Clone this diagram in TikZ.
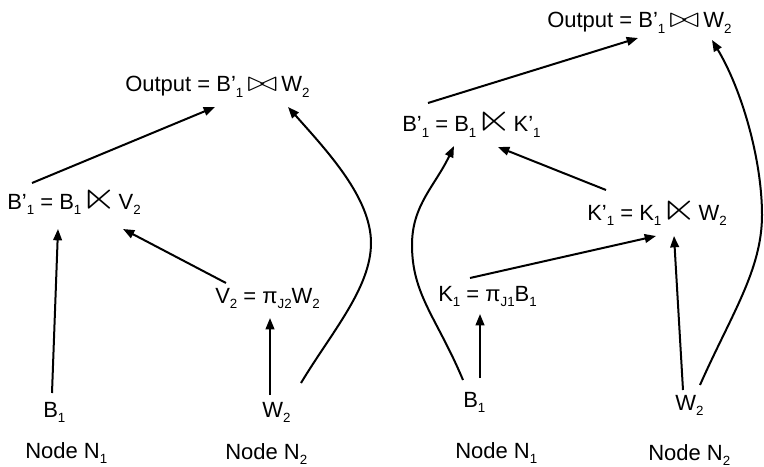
\documentclass[tikz,border=0pt]{standalone}
\usepackage{amssymb}
\usepackage{graphicx}
\usepackage{fontspec}
\setmainfont{Liberation Sans}
\usetikzlibrary{arrows.meta,calc}
\newcommand\lw[1]{\raisebox{-4pt}{\fontsize{10}{11}\selectfont #1}}
\newcommand\sj{\scalebox{2.1}[1.8]{$\ltimes$}\kern1pt}
\newcommand\bt{\kern3pt\scalebox{1.6}[1.25]{$\bowtie$}\kern3pt}
\begin{document}
\begin{tikzpicture}[x=0.75pt,y=-0.75pt,
  lbl/.style={anchor=base west,inner sep=0pt,font=\fontsize{16.5}{20}\selectfont},
  arr/.style={line width=1.5pt,-{Triangle[length=8.5pt,width=6.5pt]}}]
\useasboundingbox (0,0) rectangle (764,467);
% left diagram
\node[lbl] (outL) at (125,92) {Output = B’\lw{1}\bt W\lw{2}};
\node[lbl] (bpL) at (7,209) {B’\lw{1} = B\lw{1}\sj V\lw{2}};
\node[lbl] (v2L) at (215,303) {V\lw{2} = π\lw{J2}W\lw{2}};
\node[lbl] (b1L) at (43,417) {B\lw{1}};
\node[lbl] (w2L) at (262,417) {W\lw{2}};
\node[lbl] (n1L) at (25,458) {Node N\lw{1}};
\node[lbl] (n2L) at (225,459) {Node N\lw{2}};
% right diagram
\node[lbl] (outR) at (547,28) {Output = B’\lw{1}\bt W\lw{2}};
\node[lbl] (bpR) at (402,132) {B’\lw{1} = B\lw{1}\sj K’\lw{1}};
\node[lbl] (kpR) at (587,220) {K’\lw{1} = K\lw{1}\sj W\lw{2}};
\node[lbl] (k1R) at (438,301) {K\lw{1} = π\lw{J1}B\lw{1}};
\node[lbl] (b1R) at (463,407) {B\lw{1}};
\node[lbl] (w2R) at (675,410) {W\lw{2}};
\node[lbl] (n1R) at (455,458) {Node N\lw{1}};
\node[lbl] (n2R) at (648,460) {Node N\lw{2}};
% left connectors
\draw[arr] ($(b1L.base west)+(9,-24)$) -- ($(bpL.base west)+(51,20)$);
\draw[arr] ($(w2L.base west)+(8,-22)$) -- ($(v2L.base west)+(55,15)$);
\draw[arr] ($(v2L.base west)+(11,-20)$) -- ($(bpL.base west)+(116,20)$);
\draw[arr] ($(bpL.base west)+(25,-26)$) -- ($(outL.base west)+(90,15)$);
\draw[arr] ($(w2L.base west)+(39,-34)$) .. controls (331,333) and (371,288) .. (371,243)
  .. controls (371,198) and (328,152) .. ($(outL.base west)+(163,15)$);
% right connectors
\draw[arr] ($(bpR.base west)+(26,-29)$) -- ($(outR.base west)+(91,10)$);
\draw[arr] ($(w2R.base west)+(25,-25)$) .. controls (731,315) and (762,270) .. (762,215)
  .. controls (762,160) and (742,90) .. ($(outR.base west)+(165,12)$);
\draw[arr] ($(b1R.base west)+(0,-27)$) .. controls (437,318) and (412,295) .. (412,245)
  .. controls (412,205) and (435,186) .. ($(bpR.base west)+(52,14)$);
\draw[arr] ($(b1R.base west)+(17,-29)$) -- ($(k1R.base west)+(42,13)$);
\draw[arr] ($(k1R.base west)+(32,-23)$) -- ($(kpR.base west)+(69,16)$);
\draw[arr] ($(w2R.base west)+(8,-20)$) -- ($(kpR.base west)+(87,16)$);
\draw[arr] ($(kpR.base west)+(19,-30)$) -- ($(bpR.base west)+(96,15)$);
\end{tikzpicture}
\end{document}
